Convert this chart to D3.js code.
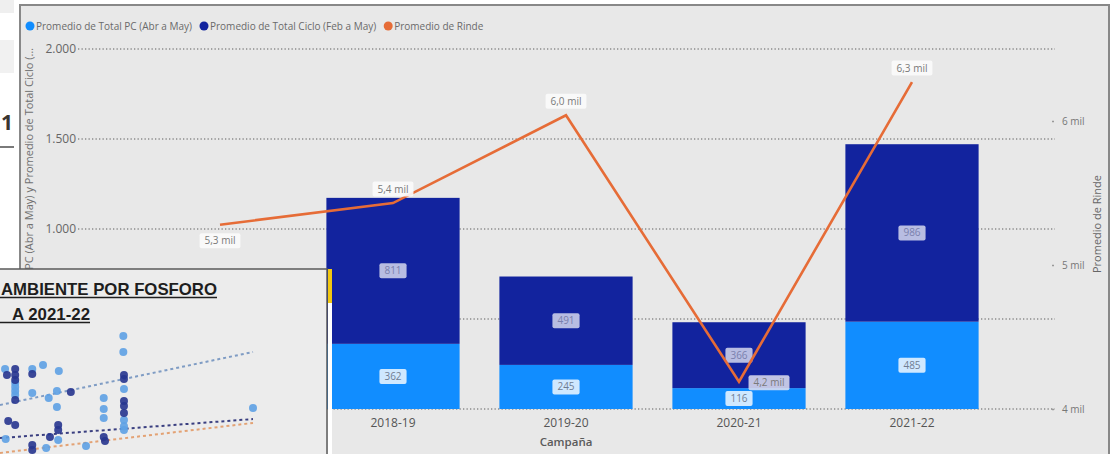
<!DOCTYPE html>
<html>
<head>
<meta charset="utf-8">
<script src="https://cdn.jsdelivr.net/npm/d3@7"></script>
<style>
  body { margin: 0; background: #fff; }
  svg { display: block; font-family: "Open Sans", "Noto Sans", sans-serif; }
</style>
</head>
<body>
<svg id="chart"></svg>
<script>
// main chart data
const campaigns = ["2017-18", "2018-19", "2019-20", "2020-21", "2021-22"];
const totalPC = [250, 362, 245, 116, 485];       // 2017-18 hidden under the inset, estimated
const totalCiclo = [400, 811, 491, 366, 986];
const rinde = [5280, 5430, 6040, 4190, 6270];
const leftTicks = [0, 500, 1000, 1500, 2000];
const rightTicks = [4000, 5000, 6000];
const seriesNames = ["Promedio de Total PC (Abr a May)", "Promedio de Total Ciclo (Feb a May)", "Promedio de Rinde"];
const seriesColors = ["#118dff", "#12239e", "#e66c37"];

// inset (pasted scatter picture over the corner)
const insetTitle = ["AMBIENTE POR FOSFORO", "A 2021-22"];
const lightPts = [[19.5, 95.4], [19.5, 83.1], [0.8, 70], [6.8, 73.1], [5.1, 70], [9.3, 68.5],
  [2.4, 59.2], [2.4, 56.2], [2.4, 53.1], [2.4, 50], [5.1, 51.5], [7.7, 47.7], [9.0, 53.1],
  [9.0, 40.8], [16.4, 47.7], [16.4, 39.2], [16.4, 32.3], [19.6, 54.6], [19.6, 30.8],
  [19.6, 23.1], [19.6, 26], [40, 40], [0.9, 16.2], [9.2, 15.4], [7.3, 9.2], [13.6, 10.8]];
const darkPts = [[1.1, 65.4], [2.4, 70], [2.4, 65.4], [2.4, 61.5], [2.4, 46.2], [5.1, 66.2],
  [11.2, 52.3], [19.6, 65.4], [19.6, 62.3], [19.6, 45.4], [19.6, 41.5], [19.6, 36.2],
  [1.3, 30], [2.4, 26.9], [9.2, 26.9], [9.2, 23.1], [7.9, 17.7], [5.1, 11.5], [5.1, 7.7],
  [16.4, 17.7], [16.6, 14.6]];
const trendLight = [[0, 42.3], [40, 83.1]];
const trendDark = [[0, 16.9], [40, 31.5]];
const trendOrange = [[0, 5.4], [40, 28.5]];

const width = 1115;
const height = 454;
const insetTop = 269;

const svg = d3.select("#chart")
  .attr("width", width)
  .attr("height", height);

// the inset covers the lower part of the left axis title
svg.append("defs").append("clipPath").attr("id", "above-inset")
  .append("rect").attr("x", 0).attr("y", 0).attr("width", 60).attr("height", insetTop);

// bits of the report page left of the visual
svg.append("rect").attr("x", 0).attr("y", 0).attr("width", 14).attr("height", 13).attr("fill", "#efefef");
svg.append("rect").attr("x", 0).attr("y", 40).attr("width", 14).attr("height", 33).attr("fill", "#f1f1f1");
svg.append("text").attr("x", 7).attr("y", 130).attr("text-anchor", "middle")
  .attr("font-size", 21).attr("font-weight", 700).attr("fill", "#3a3530").text("1");
svg.append("line").attr("x1", 0).attr("x2", 14).attr("y1", 147).attr("y2", 147)
  .attr("stroke", "#222").attr("stroke-width", 1.2);

// visual frame
svg.append("rect")
  .attr("x", 20).attr("y", 5).attr("width", 1089).attr("height", 470)
  .attr("fill", "#e8e8e8").attr("stroke", "#888").attr("stroke-width", 2);

const x = d3.scaleBand()
  .domain(campaigns)
  .range([133.5, 998.5])
  .paddingInner(0.23)
  .paddingOuter(0.115);

const yL = d3.scaleLinear().domain([0, 2000]).range([409, 49]);
const yR = d3.scaleLinear().domain([4000, 6500]).range([409, 49]);

// gridlines
svg.append("g")
  .selectAll("line")
  .data(leftTicks)
  .enter().append("line")
  .attr("x1", 78).attr("x2", 1055)
  .attr("y1", d => yL(d)).attr("y2", d => yL(d))
  .attr("stroke", "#8a8a8a")
  .attr("stroke-width", 1.4)
  .attr("stroke-dasharray", "1.3,2.2");

// left axis (labels under the inset are not visible)
const fmtThousands = d => d3.format(",")(d).replace(/,/g, ".");
const leftAxis = svg.append("g")
  .attr("transform", "translate(76,0)")
  .call(d3.axisLeft(yL).tickValues(leftTicks).tickFormat(fmtThousands).tickSize(0).tickPadding(0));
leftAxis.select(".domain").remove();
leftAxis.selectAll(".tick").filter(d => yL(d) > insetTop).remove();
leftAxis.selectAll("text").attr("font-size", 12).attr("fill", "#666").attr("font-family", "Open Sans");

// right axis
const rightAxis = svg.append("g")
  .attr("transform", "translate(1052,0)")
  .call(d3.axisRight(yR).tickValues(rightTicks).tickFormat(d => (d / 1000) + " mil").tickSize(2).tickPadding(8));
rightAxis.select(".domain").remove();
rightAxis.selectAll("line").attr("stroke", "#999").attr("stroke-width", 1.5);
rightAxis.selectAll("text").attr("font-size", 10).attr("fill", "#777").attr("font-family", "Open Sans");

// axis titles
svg.append("g").attr("clip-path", "url(#above-inset)")
  .append("text")
  .attr("transform", "translate(33,48) rotate(-90)")
  .attr("text-anchor", "end")
  .attr("font-size", 11).attr("fill", "#707070")
  .text("Promedio de Total PC (Abr a May) y Promedio de Total Ciclo (…");

svg.append("text")
  .attr("transform", "translate(1101,224) rotate(-90)")
  .attr("text-anchor", "middle")
  .attr("font-size", 11).attr("fill", "#666")
  .text("Promedio de Rinde");

// bars
const bw = x.bandwidth();
const bars = svg.append("g");
bars.selectAll(".pc")
  .data(campaigns)
  .enter().append("rect")
  .attr("class", "pc")
  .attr("x", d => x(d))
  .attr("width", bw)
  .attr("y", (d, i) => yL(totalPC[i]))
  .attr("height", (d, i) => yL(0) - yL(totalPC[i]))
  .attr("fill", seriesColors[0]);

bars.selectAll(".ciclo")
  .data(campaigns)
  .enter().append("rect")
  .attr("class", "ciclo")
  .attr("x", d => x(d))
  .attr("width", bw)
  .attr("y", (d, i) => yL(totalPC[i] + totalCiclo[i]))
  .attr("height", (d, i) => yL(totalPC[i]) - yL(totalPC[i] + totalCiclo[i]))
  .attr("fill", seriesColors[1]);

// x axis
const xAxis = svg.append("g")
  .attr("transform", "translate(0,409)")
  .call(d3.axisBottom(x).tickSize(0).tickPadding(9));
xAxis.select(".domain").remove();
xAxis.selectAll("text").attr("font-size", 12).attr("fill", "#555").attr("font-family", "Open Sans");

svg.append("text")
  .attr("x", (x.range()[0] + x.range()[1]) / 2)
  .attr("y", 446)
  .attr("text-anchor", "middle")
  .attr("font-size", 11.5).attr("font-weight", 600).attr("fill", "#5a5a5a")
  .text("Campaña");

// label helper: text in a rounded box
function boxLabel(g, cx, cy, txt, boxFill, textFill) {
  const lg = g.append("g");
  const rect = lg.append("rect");
  const t = lg.append("text")
    .attr("x", cx).attr("y", cy + 3.5)
    .attr("text-anchor", "middle")
    .attr("font-size", 10).attr("fill", textFill)
    .text(txt);
  const w = t.node().getComputedTextLength() + 10;
  rect.attr("x", cx - w / 2).attr("y", cy - 7.5).attr("width", w).attr("height", 15)
    .attr("rx", 2).attr("fill", boxFill);
}

const barLabels = svg.append("g");
campaigns.forEach((c, i) => {
  const cx = x(c) + bw / 2;
  boxLabel(barLabels, cx, (yL(0) + yL(totalPC[i])) / 2, totalPC[i],
    "rgba(255,255,255,0.8)", "#6f7d92");
  boxLabel(barLabels, cx, (yL(totalPC[i]) + yL(totalPC[i] + totalCiclo[i])) / 2, totalCiclo[i],
    "rgba(255,255,255,0.7)", "#7a80ad");
});

// line
const line = d3.line()
  .x((d, i) => x(campaigns[i]) + bw / 2)
  .y(d => yR(d));

svg.append("path")
  .datum(rinde)
  .attr("d", line)
  .attr("fill", "none")
  .attr("stroke", seriesColors[2])
  .attr("stroke-width", 2.6)
  .attr("stroke-linejoin", "miter");

// line labels (placement as Power BI put them)
const labelPlace = ["below", "above", "above", "right", "above"];
const lineLabels = svg.append("g");
const fmtMil = d => d3.format(".1f")(d / 1000).replace(".", ",") + " mil";
rinde.forEach((v, i) => {
  let cx = x(campaigns[i]) + bw / 2;
  let cy = yR(v);
  if (labelPlace[i] === "above") cy -= 14;
  else if (labelPlace[i] === "below") cy += 16;
  else { cx += 30; cy += 1; }
  boxLabel(lineLabels, cx, cy, fmtMil(v),
    labelPlace[i] === "right" ? "rgba(225,225,240,0.85)" : "rgba(250,250,250,0.92)", "#7a7a7a");
});

// legend
const legend = svg.append("g").attr("transform", "translate(0,26)");
let lx = 30;
seriesNames.forEach((name, i) => {
  legend.append("circle").attr("cx", lx).attr("cy", 0).attr("r", 4.5).attr("fill", seriesColors[i]);
  const t = legend.append("text")
    .attr("x", lx + 6).attr("y", 3.5)
    .attr("font-size", 10).attr("fill", "#6a6a6a")
    .text(name);
  lx = lx + 6 + t.node().getComputedTextLength() + 12;
});

// inset picture (scatter by phosphorus) covering the bottom-left corner
const inset = svg.append("g");
inset.append("rect")
  .attr("x", -2).attr("y", insetTop).attr("width", 329).attr("height", 200)
  .attr("fill", "#ececec").attr("stroke", "#5a5a5a").attr("stroke-width", 1.5);
inset.append("rect").attr("x", 328).attr("y", insetTop).attr("width", 4).attr("height", 190).attr("fill", "#ffffff");
inset.append("rect").attr("x", 328).attr("y", insetTop).attr("width", 4).attr("height", 34).attr("fill", "#f2c811");

inset.append("text")
  .attr("x", 1).attr("y", 295)
  .attr("textLength", 216).attr("lengthAdjust", "spacingAndGlyphs")
  .attr("font-family", "Liberation Sans").attr("font-size", 17).attr("font-weight", 700)
  .attr("fill", "#1e1e1e")
  .text(insetTitle[0]);
inset.append("text")
  .attr("x", 12).attr("y", 320)
  .attr("textLength", 78).attr("lengthAdjust", "spacingAndGlyphs")
  .attr("font-family", "Liberation Sans").attr("font-size", 17).attr("font-weight", 700)
  .attr("fill", "#1e1e1e")
  .text(insetTitle[1]);
inset.append("line").attr("x1", 0).attr("x2", 217).attr("y1", 297.5).attr("y2", 297.5)
  .attr("stroke", "#1e1e1e").attr("stroke-width", 1.5);
inset.append("line").attr("x1", 0).attr("x2", 90).attr("y1", 322.5).attr("y2", 322.5)
  .attr("stroke", "#1e1e1e").attr("stroke-width", 1.5);

const ix = d3.scaleLinear().domain([0, 40]).range([0, 253]);
const iy = d3.scaleLinear().domain([0, 100]).range([460, 330]);
const trend = d3.line().x(d => ix(d[0])).y(d => iy(d[1]));

[[trendLight, "#7f9cc4"], [trendDark, "#3a3f80"], [trendOrange, "#e3a274"]].forEach(([pts, col]) => {
  inset.append("path")
    .datum(pts)
    .attr("d", trend)
    .attr("fill", "none")
    .attr("stroke", col)
    .attr("stroke-width", 2)
    .attr("stroke-dasharray", "3,3");
});

inset.selectAll(".lp")
  .data(lightPts)
  .enter().append("circle")
  .attr("class", "lp")
  .attr("cx", d => ix(d[0])).attr("cy", d => iy(d[1]))
  .attr("r", 4)
  .attr("fill", "#5ea1e4").attr("fill-opacity", 0.9);

inset.selectAll(".dp")
  .data(darkPts)
  .enter().append("circle")
  .attr("class", "dp")
  .attr("cx", d => ix(d[0])).attr("cy", d => iy(d[1]))
  .attr("r", 4)
  .attr("fill", "#27358f").attr("fill-opacity", 0.9);
</script>
</body>
</html>
